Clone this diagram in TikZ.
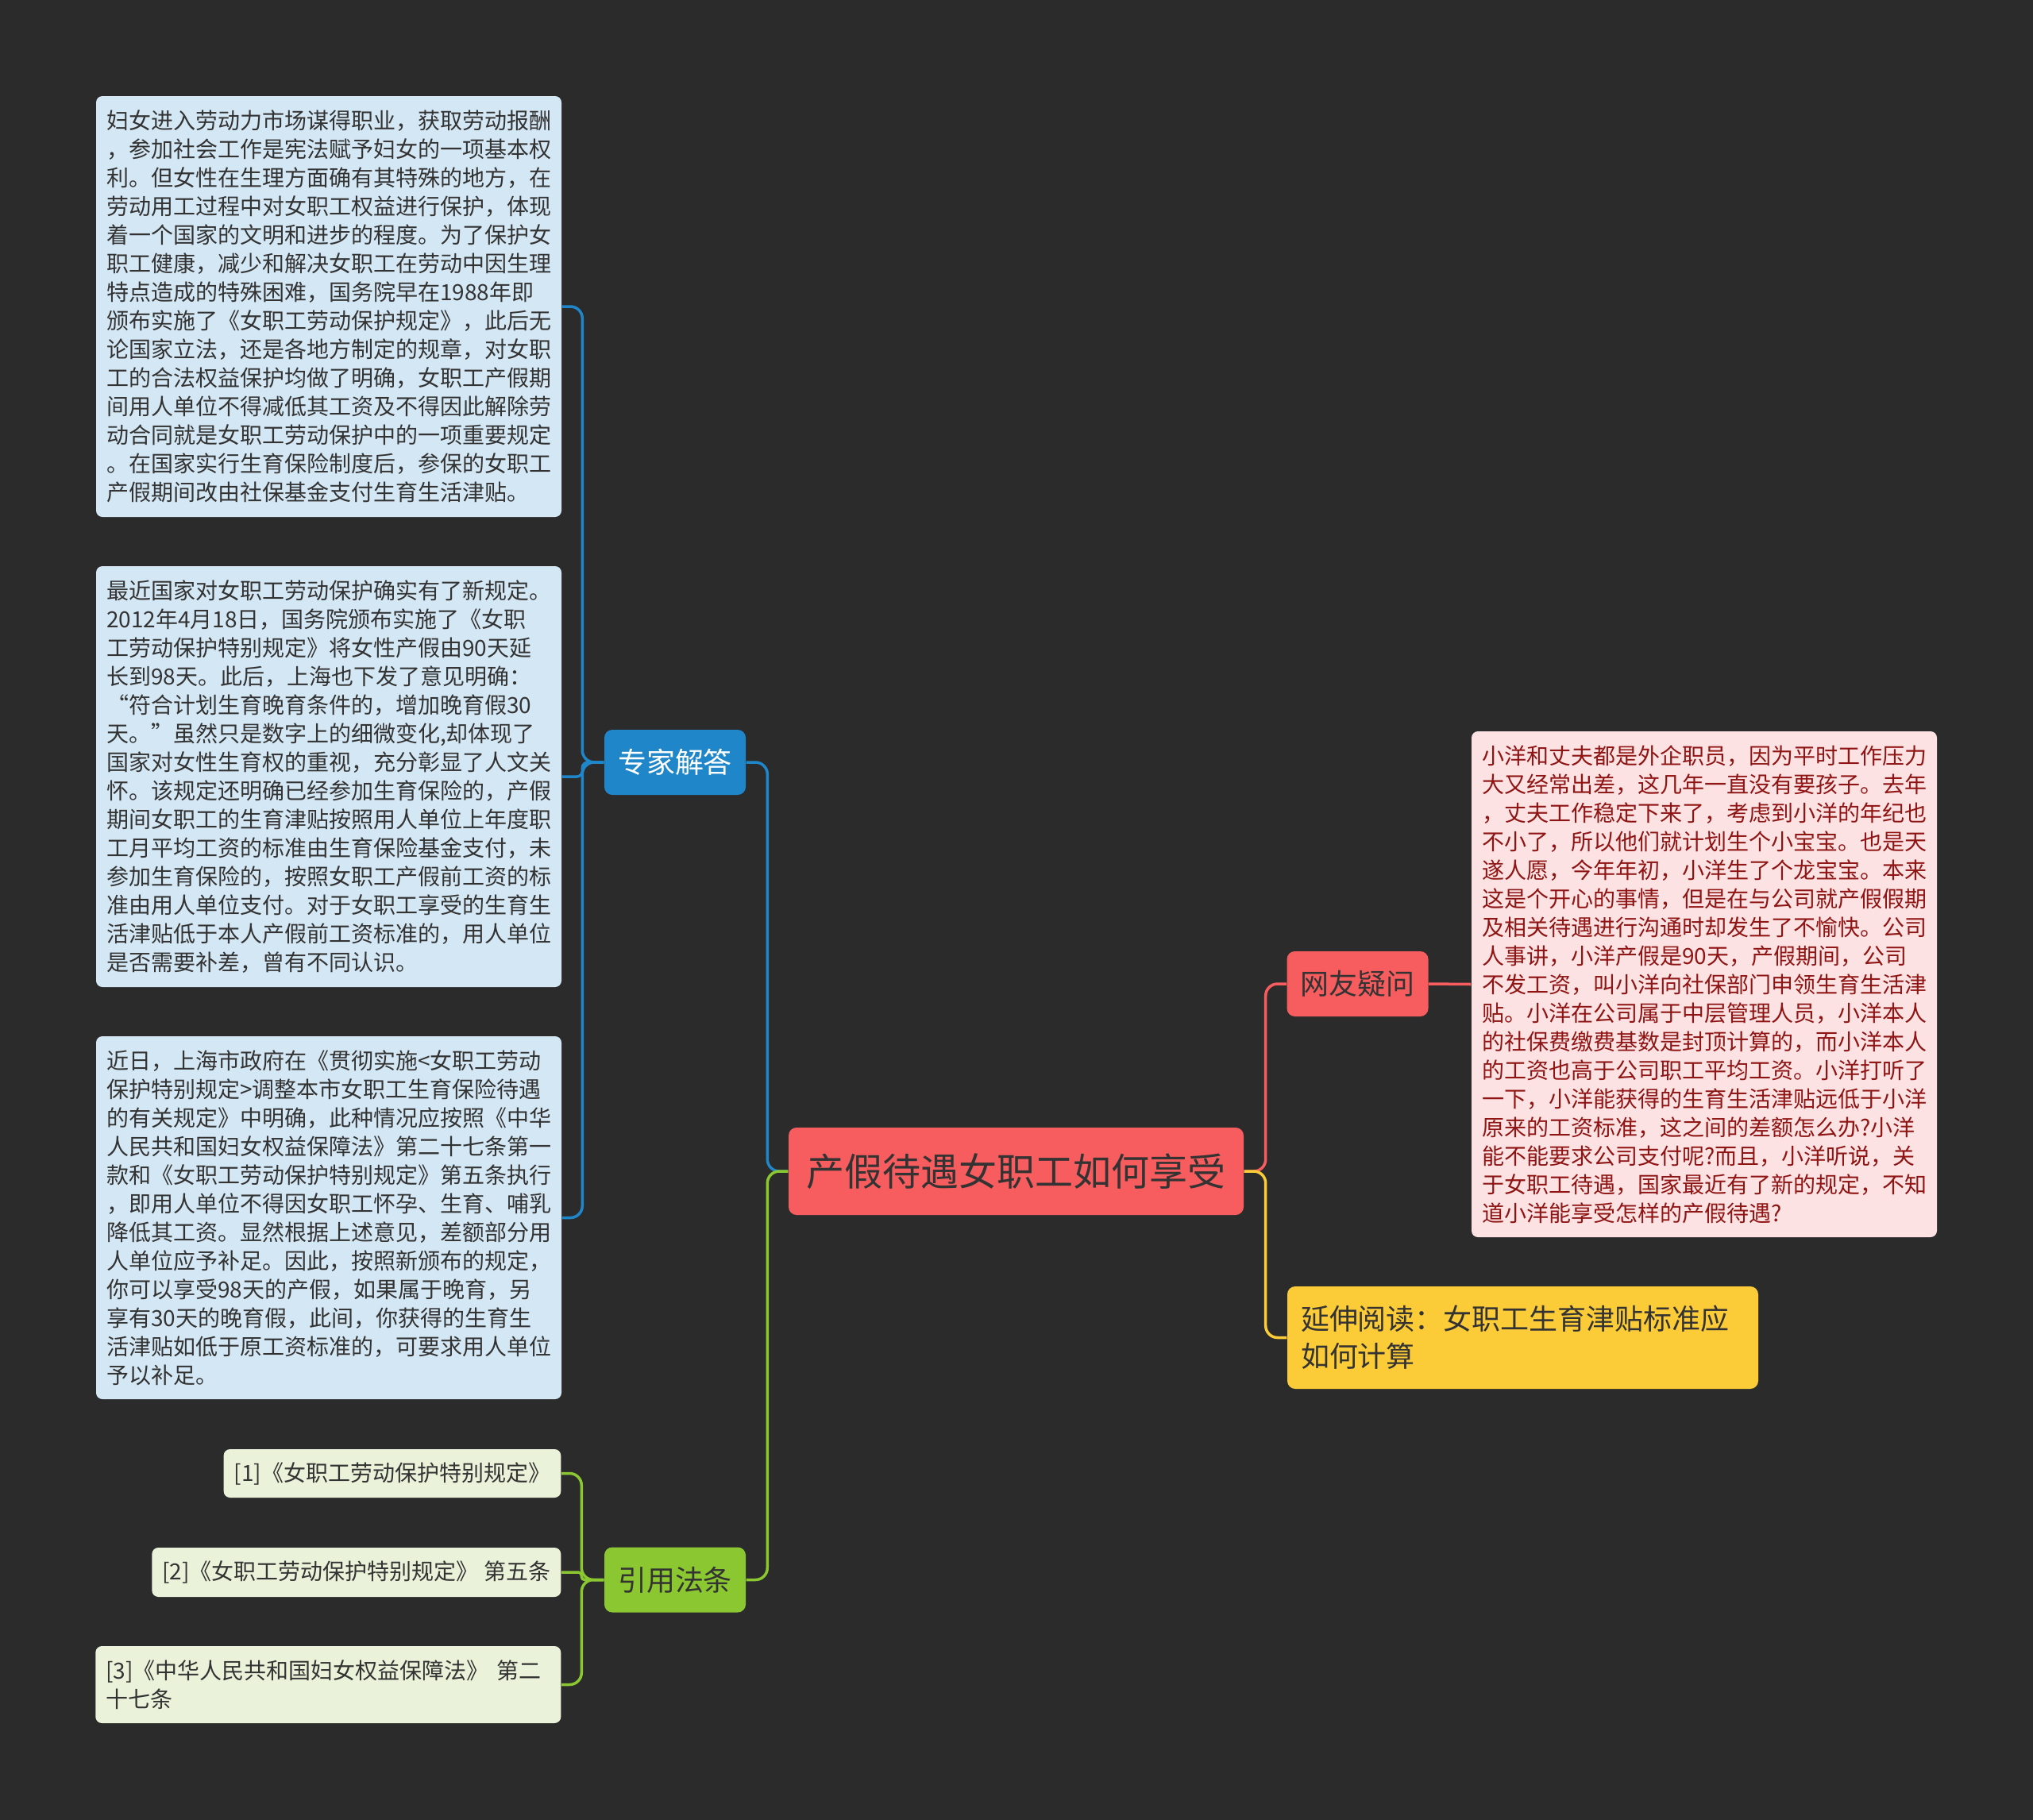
\documentclass[tikz,border=0pt]{standalone}
\usepackage{fontspec}
\setmainfont{Noto Sans CJK SC}
\usetikzlibrary{positioning}

\definecolor{bgc}{HTML}{2B2B2B}
\definecolor{zjblue}{HTML}{1F86C9}
\definecolor{zjlight}{HTML}{D4E7F4}
\definecolor{rootred}{HTML}{F75C5E}
\definecolor{pinkbox}{HTML}{FCE2E2}
\definecolor{pinktxt}{HTML}{8F1414}
\definecolor{ydyellow}{HTML}{FCCB38}
\definecolor{yygreen}{HTML}{8AC731}
\definecolor{yylight}{HTML}{EAF3D9}
\definecolor{darktxt}{HTML}{333333}

\newcommand\txtsmall{\fontsize{7.97pt}{10.24pt}\selectfont}
\newcommand\txtmid{\fontsize{10.24pt}{13.37pt}\selectfont}
\newcommand\txtbig{\fontsize{13.66pt}{16pt}\selectfont}

\begin{document}
\begin{tikzpicture}[
  leafbox/.style={rectangle,rounded corners=0.08cm,align=left,text width=5.6cm,
    inner xsep=0.13cm,inner ysep=0.08cm,font=\txtsmall,text=darktxt},
  topicbox/.style={rectangle,rounded corners=0.1cm,font=\txtmid,text=darktxt,
    minimum width=1.78cm,minimum height=0.82cm,inner sep=0pt},
  link/.style={line width=0.035cm,rounded corners=0.15cm}]
  \useasboundingbox (0,0) rectangle (25.6,-22.92);
  \fill[bgc] (0,0) rectangle (25.6,-22.92);

  % central topic
  \node[topicbox,fill=rootred,font=\txtbig,minimum width=5.73cm,minimum height=1.1cm]
    (root) at (12.795,-14.75) {产假待遇女职工如何享受};

  % left: expert answer
  \node[topicbox,fill=zjblue,text=white] (zj) at (8.50,-9.60) {专家解答};
  \node[leafbox,fill=zjlight,minimum height=5.30cm] (ea) at (4.14,-3.86) {%
妇女进入劳动力市场谋得职业，获取劳动报酬\\
，参加社会工作是宪法赋予妇女的一项基本权\\
利。但女性在生理方面确有其特殊的地方，在\\
劳动用工过程中对女职工权益进行保护，体现\\
着一个国家的文明和进步的程度。为了保护女\\
职工健康，减少和解决女职工在劳动中因生理\\
特点造成的特殊困难，国务院早在1988年即\\
颁布实施了《女职工劳动保护规定》，此后无\\
论国家立法，还是各地方制定的规章，对女职\\
工的合法权益保护均做了明确，女职工产假期\\
间用人单位不得减低其工资及不得因此解除劳\\
动合同就是女职工劳动保护中的一项重要规定\\
。在国家实行生育保险制度后，参保的女职工\\
产假期间改由社保基金支付生育生活津贴。};
  \node[leafbox,fill=zjlight,minimum height=5.30cm] (eb) at (4.14,-9.78) {%
最近国家对女职工劳动保护确实有了新规定。\\
2012年4月18日，国务院颁布实施了《女职\\
工劳动保护特别规定》将女性产假由90天延\\
长到98天。此后，上海也下发了意见明确：\\
“符合计划生育晚育条件的，增加晚育假30\\
天。”虽然只是数字上的细微变化,却体现了\\
国家对女性生育权的重视，充分彰显了人文关\\
怀。该规定还明确已经参加生育保险的，产假\\
期间女职工的生育津贴按照用人单位上年度职\\
工月平均工资的标准由生育保险基金支付，未\\
参加生育保险的，按照女职工产假前工资的标\\
准由用人单位支付。对于女职工享受的生育生\\
活津贴低于本人产假前工资标准的，用人单位\\
是否需要补差，曾有不同认识。};
  \node[leafbox,fill=zjlight,minimum height=4.57cm] (ec) at (4.14,-15.335) {%
近日，上海市政府在《贯彻实施<女职工劳动\\
保护特别规定>调整本市女职工生育保险待遇\\
的有关规定》中明确，此种情况应按照《中华\\
人民共和国妇女权益保障法》第二十七条第一\\
款和《女职工劳动保护特别规定》第五条执行\\
，即用人单位不得因女职工怀孕、生育、哺乳\\
降低其工资。显然根据上述意见，差额部分用\\
人单位应予补足。因此，按照新颁布的规定，\\
你可以享受98天的产假，如果属于晚育，另\\
享有30天的晚育假，此间，你获得的生育生\\
活津贴如低于原工资标准的，可要求用人单位\\
予以补足。};

  % left: cited laws
  \node[topicbox,fill=yygreen] (yy) at (8.50,-19.895) {引用法条};
  \node[leafbox,fill=yylight,text width=,minimum height=0.61cm,anchor=east]
    (r1) at (7.07,-18.555) {[1]《女职工劳动保护特别规定》};
  \node[leafbox,fill=yylight,text width=,minimum height=0.62cm,anchor=east]
    (r2) at (7.07,-19.80) {[2]《女职工劳动保护特别规定》 第五条};
  \node[leafbox,fill=yylight,minimum height=0.97cm,anchor=east]
    (r3) at (7.07,-21.215) {[3]《中华人民共和国妇女权益保障法》 第二\\十七条};

  % right: question
  \node[topicbox,fill=rootred] (wy) at (17.095,-12.39) {网友疑问};
  \node[leafbox,fill=pinkbox,text=pinktxt,minimum height=6.37cm] (pk) at (21.46,-12.395) {%
小洋和丈夫都是外企职员，因为平时工作压力\\
大又经常出差，这几年一直没有要孩子。去年\\
，丈夫工作稳定下来了，考虑到小洋的年纪也\\
不小了，所以他们就计划生个小宝宝。也是天\\
遂人愿，今年年初，小洋生了个龙宝宝。本来\\
这是个开心的事情，但是在与公司就产假假期\\
及相关待遇进行沟通时却发生了不愉快。公司\\
人事讲，小洋产假是90天，产假期间，公司\\
不发工资，叫小洋向社保部门申领生育生活津\\
贴。小洋在公司属于中层管理人员，小洋本人\\
的社保费缴费基数是封顶计算的，而小洋本人\\
的工资也高于公司职工平均工资。小洋打听了\\
一下，小洋能获得的生育生活津贴远低于小洋\\
原来的工资标准，这之间的差额怎么办?小洋\\
能不能要求公司支付呢?而且，小洋听说，关\\
于女职工待遇，国家最近有了新的规定，不知\\
道小洋能享受怎样的产假待遇?};

  % right: further reading
  \node[topicbox,fill=ydyellow,align=left,text width=5.59cm,inner xsep=0.17cm,
    minimum width=5.93cm,minimum height=1.29cm] (yd) at (19.175,-16.845)
    {延伸阅读：女职工生育津贴标准应\\如何计算};

  % connectors
  \draw[link,zjblue] (root.west) -- ++(-0.26,0) |- (zj.east);
  \draw[link,yygreen] (root.west) -- ++(-0.26,0) |- (yy.east);
  \draw[link,rootred] (root.east) -- ++(0.27,0) |- (wy.west);
  \draw[link,ydyellow] (root.east) -- ++(0.27,0) |- (yd.west);
  \draw[link,rootred] (wy.east) -- (pk.west);
  \draw[link,zjblue] (zj.west) -- ++(-0.27,0) |- (ea.east);
  \draw[link,zjblue,rounded corners=0.07cm] (zj.west) -- ++(-0.27,0) |- (eb.east);
  \draw[link,zjblue] (zj.west) -- ++(-0.27,0) |- (ec.east);
  \draw[link,yygreen] (yy.west) -- ++(-0.28,0) |- (r1.east);
  \draw[link,yygreen,rounded corners=0.04cm] (yy.west) -- ++(-0.28,0) |- (r2.east);
  \draw[link,yygreen] (yy.west) -- ++(-0.28,0) |- (r3.east);
\end{tikzpicture}
\end{document}
